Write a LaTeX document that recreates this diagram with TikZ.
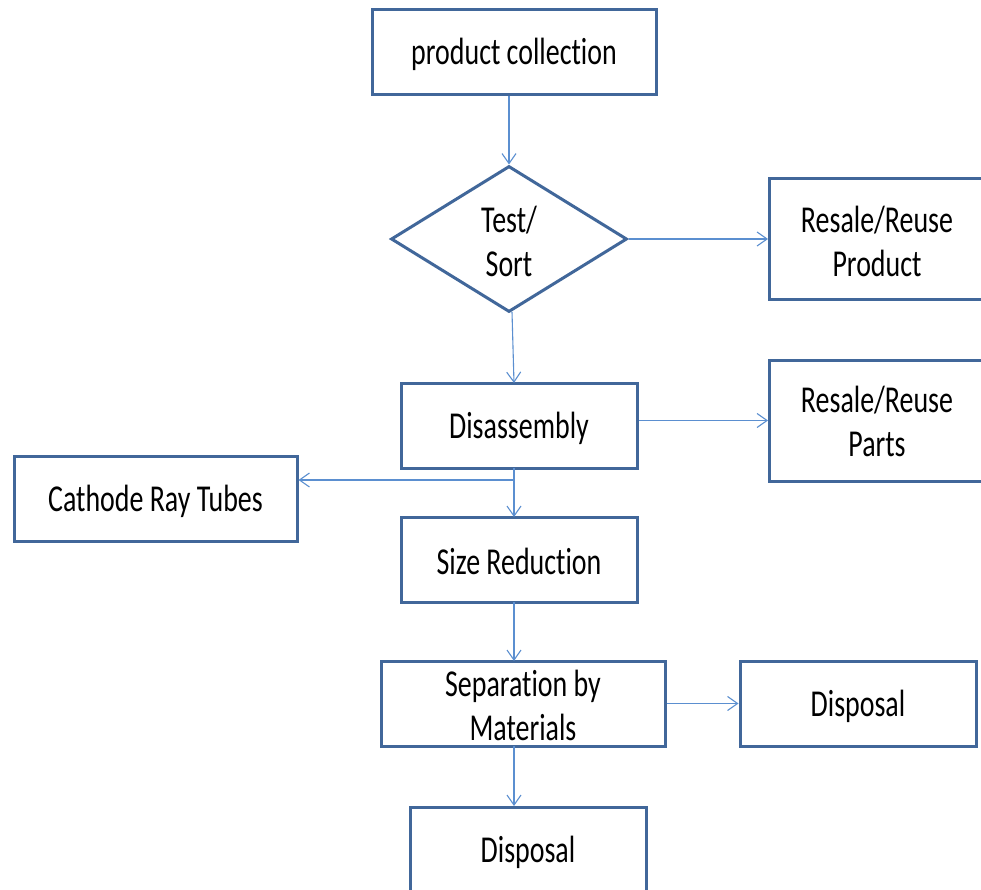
\documentclass[tikz,border=0pt]{standalone}
\usepackage{fontspec}
\setmainfont[FakeStretch=0.735,Ligatures=NoCommon]{Carlito}
\usetikzlibrary{shapes.geometric,arrows.meta}
\definecolor{boxline}{HTML}{41679A}
\definecolor{flowline}{HTML}{5B8FD0}
\tikzset{
  labelfont/.style={font=\fontsize{38}{44}\selectfont},
  stepbox/.style={draw=boxline, line width=3pt, fill=white, rectangle,
    inner sep=0pt, align=center, labelfont},
  choice/.style={draw=boxline, line width=3pt, fill=white, diamond,
    inner sep=0pt, align=center, labelfont},
  flow/.style={draw=flowline, line width=1.1pt,
    -{Straight Barb[length=10pt,width=14pt,line width=1.1pt]}}
}
\begin{document}
\begin{tikzpicture}[x=1pt,y=-1pt]
\useasboundingbox (0,0) rectangle (981,890);
\clip (0,0) rectangle (981,890);
\fill[white] (0,0) rectangle (981,890);

% process boxes (labels set separately so they sit slightly low, as in Calibri)
\node[stepbox, minimum width=284pt, minimum height=85pt] (collect) at (514,52.5) {};
\node[labelfont] at (514,54) {product collection};
\node[choice, minimum width=236pt, minimum height=146pt] (sort) at (509,239) {};
\node[labelfont, align=center] at (509,241) {Test/\\Sort};
\node[stepbox, minimum width=240pt, minimum height=120pt, anchor=west] (resprod) at (768,239) {};
\node[labelfont, align=center] at (877,241) {Resale/Reuse\\Product};
\node[stepbox, minimum width=236pt, minimum height=85pt] (disasm) at (519,425.5) {};
\node[labelfont] at (519,428) {Disassembly};
\node[stepbox, minimum width=240pt, minimum height=121pt, anchor=west] (resparts) at (768,420.5) {};
\node[labelfont, align=center] at (877,421) {Resale/Reuse\\Parts};
\node[stepbox, minimum width=283pt, minimum height=85pt] (crt) at (155.5,498.5) {};
\node[labelfont] at (155.5,501) {Cathode Ray Tubes};
\node[stepbox, minimum width=236pt, minimum height=85pt] (sizered) at (519,559.5) {};
\node[labelfont] at (519,561) {Size Reduction};
\node[stepbox, minimum width=284pt, minimum height=85pt] (separate) at (523,703.5) {};
\node[labelfont, align=center] at (523,705) {Separation by\\Materials};
\node[stepbox, minimum width=236pt, minimum height=85pt] (disp1) at (858,703.5) {};
\node[labelfont] at (858,706) {Disposal};
\node[stepbox, minimum width=236pt, minimum height=90pt, anchor=north] (disp2) at (528,806) {};
\node[labelfont] at (528,852) {Disposal};

% connectors
\coordinate (split) at (514,480);
\draw[flow] (collect.south -| sort.north) -- (sort.north);
\draw[flow] (sort.east) -- (resprod.west);
\draw[flow] (512,312) -- (514,383);
\draw[flow] (disasm.east |- resparts.west) -- (resparts.west);
\draw[draw=flowline, line width=1.1pt] (514,468) -- (split);
\draw[flow] (split) -- (514,517);
\draw[flow] (split) -- (split -| crt.east);
\draw[flow] (514,602) -- (514,661);
\draw[flow] (separate.east) -- (disp1.west);
\draw[flow] (514,746) -- (514,806);
\end{tikzpicture}
\end{document}
